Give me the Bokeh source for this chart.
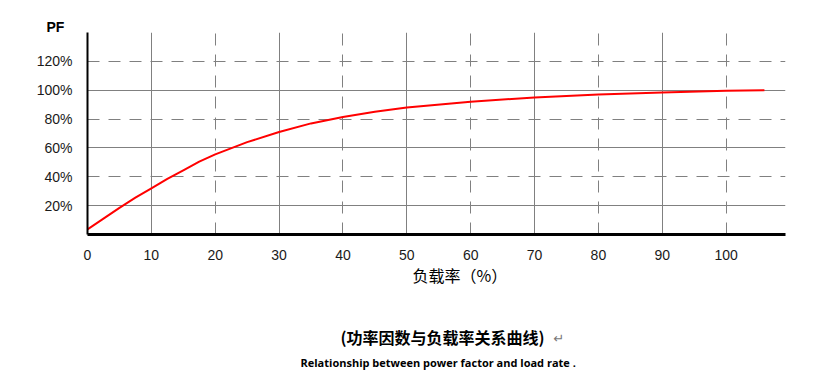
from bokeh.plotting import figure
from bokeh.layouts import column
from bokeh.models import Range1d, FixedTicker, Grid, Title, ColumnDataSource
from bokeh.core.properties import value
from bokeh.embed import file_html
from bokeh.resources import INLINE

# data
load_rate = [0, 2.5, 5, 7.5, 10, 12.5, 15, 17.5, 20, 25, 30, 35, 40, 45, 50, 60, 70, 80, 90, 100, 106]
power_factor = [3.5, 11, 18.5, 25.5, 32, 38.5, 44.5, 50.5, 55.5, 64, 71, 77, 81.5, 85, 88, 92, 95, 97, 98.5, 99.7, 100]
x_ticks = [0, 10, 20, 30, 40, 50, 60, 70, 80, 90, 100]
y_ticks = [20, 40, 60, 80, 100, 120]
y_tick_labels = ["20%", "40%", "60%", "80%", "100%", "120%"]
x_solid_grid = [10, 30, 50, 70, 90]
x_dash_grid = [20, 40, 60, 80, 100]
y_solid_grid = [20, 60, 100]
y_dash_grid = [40, 80, 120]

W = 822
FL, FR = 87, 785  # frame left/right edges in page pixels

p = figure(width=W, height=262, output_backend="svg", toolbar_location=None,
           x_range=Range1d(0, 109.3), y_range=Range1d(0, 140),
           min_border_left=FL, min_border_right=W - FR, min_border_top=32, min_border_bottom=28)
p.outline_line_color = None

# axes
for ax in (p.xaxis[0], p.yaxis[0]):
    ax.major_tick_line_color = None
    ax.minor_tick_line_color = None
    ax.axis_line_color = "black"
    ax.major_label_text_font = "Liberation Sans"
    ax.major_label_text_font_size = "14px"
    ax.major_label_text_color = "#1a1a1a"
p.xaxis[0].axis_line_width = 3
p.yaxis[0].axis_line_width = 2
p.xaxis[0].ticker = FixedTicker(ticks=x_ticks)
p.yaxis[0].ticker = FixedTicker(ticks=y_ticks)
p.yaxis[0].major_label_overrides = {t: l for t, l in zip(y_ticks, y_tick_labels)}
p.xaxis[0].major_label_standoff = 9
p.yaxis[0].major_label_standoff = 9

# grids
p.xgrid[0].ticker = FixedTicker(ticks=x_solid_grid)
p.ygrid[0].ticker = FixedTicker(ticks=y_solid_grid)
for g in (p.xgrid[0], p.ygrid[0]):
    g.grid_line_color = "#808080"
    g.grid_line_width = 1
p.add_layout(Grid(dimension=0, ticker=FixedTicker(ticks=x_dash_grid),
                  grid_line_color="#808080", grid_line_width=1, grid_line_dash="12 9"))
p.add_layout(Grid(dimension=1, ticker=FixedTicker(ticks=y_dash_grid),
                  grid_line_color="#808080", grid_line_width=1, grid_line_dash="12 9"))

src = ColumnDataSource(dict(x=load_rate, y=power_factor))
p.line("x", "y", source=src, line_color="#ff0000", line_width=2)

# "PF" label at top-left
p.add_layout(Title(text="PF", align="left", offset=-41, standoff=-5,
                   text_font="Liberation Sans", text_font_size="14px",
                   text_font_style="bold", text_color="black"), "above")

# caption area below the chart (left-aligned positions, page pixels / pixels from area top)
cap_x = [412, 340, 553, 300]
cap_y = [12, 74, 76, 100]
cap_text = ["负载率（%）", "(功率因数与负载率关系曲线)", "↵", "Relationship between power factor and load rate ."]

q = figure(width=W, height=110, output_backend="svg", toolbar_location=None,
           x_range=Range1d(FL, FR), y_range=Range1d(110, 0),
           x_axis_type=None, y_axis_type=None,
           min_border_left=FL, min_border_right=W - FR, min_border_top=0, min_border_bottom=0)
q.outline_line_color = None
q.xgrid.visible = False
q.ygrid.visible = False

q.text(x=[cap_x[0]], y=[cap_y[0]], text=[cap_text[0]], text_font=value("Noto Sans CJK SC"),
       text_font_size="16px", text_color="black", text_align="left", text_baseline="middle")
q.text(x=[cap_x[1]], y=[cap_y[1]], text=[cap_text[1]], text_font=value("Noto Sans CJK SC"),
       text_font_size="16px", text_font_style="bold", text_color="black",
       text_align="left", text_baseline="middle")
q.text(x=[cap_x[2]], y=[cap_y[2]], text=[cap_text[2]], text_font=value("DejaVu Sans"),
       text_font_size="13px", text_color="#777777", text_align="left", text_baseline="middle")
q.text(x=[cap_x[3]], y=[cap_y[3]], text=[cap_text[3]], text_font=value("Open Sans"),
       text_font_size="11px", text_font_style="bold", text_color="black",
       text_align="left", text_baseline="middle")

layout = column(p, q, spacing=0)
open("out.html", "w").write(file_html(layout, INLINE))
